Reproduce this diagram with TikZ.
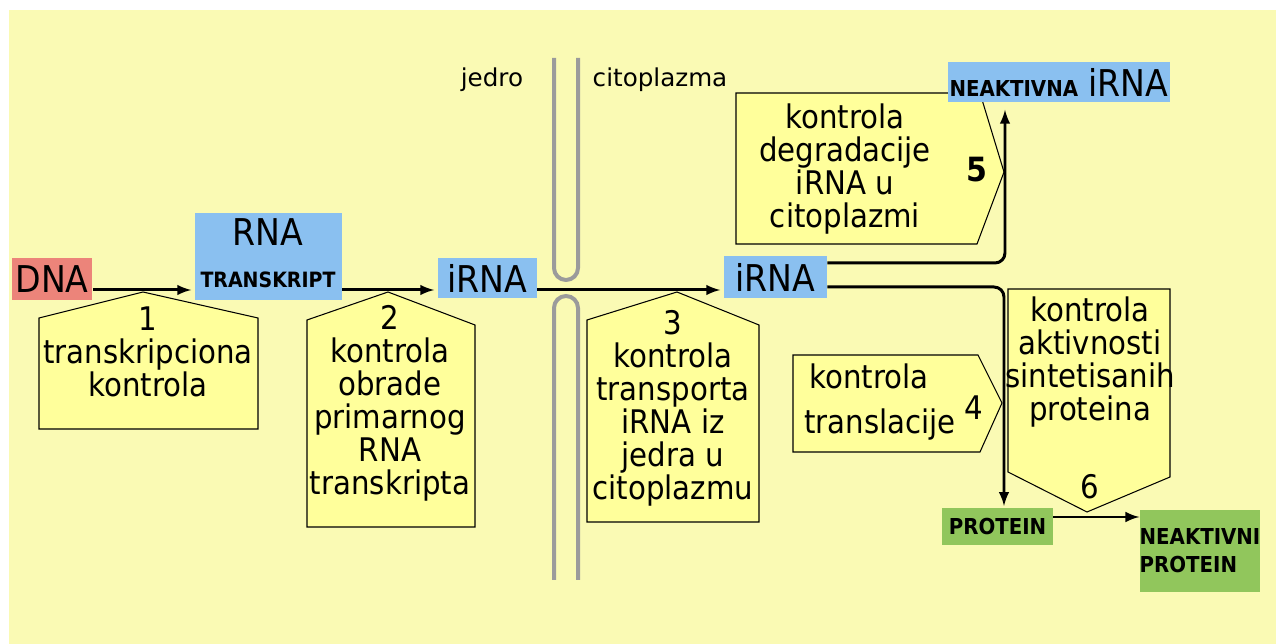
\documentclass[tikz,border=0pt]{standalone}
\usepackage{fontspec}
\setmainfont{DejaVu Sans Condensed}
\newfontfamily\placefont{DejaVu Sans}
\usetikzlibrary{arrows,calc,positioning}
\definecolor{bgyellow}{RGB}{250,250,180}
\definecolor{boxyellow}{RGB}{255,255,155}
\definecolor{dnared}{RGB}{236,132,122}
\definecolor{rnablue}{RGB}{138,192,240}
\definecolor{protgreen}{RGB}{145,198,92}
\definecolor{membrane}{RGB}{155,155,155}
\tikzset{
        callout/.style = {draw, fill=boxyellow, line width=0.6pt},
        ctext/.style = {align=center, inner sep=0pt,
            font=\fontsize{18.5}{18.8}\selectfont},
        mol/.style = {inner sep=0pt, font=\fontsize{21}{21}\selectfont},
        tag/.style = {inner sep=0pt, font=\bfseries\fontsize{12.5}{16}\selectfont},
        place/.style = {inner sep=0pt, font=\placefont\fontsize{14}{14}\selectfont},
        flow/.style = {draw, line width=1.7pt, -latex},
        memb/.style = {draw=membrane, line width=0.08cm, rounded corners=0.24cm},
    }

\begin{document}
\begin{tikzpicture}[x=0.02cm, y=-0.02cm]
            \useasboundingbox (0,0) rectangle (1276,644);
            \fill[white] (0,0) rectangle (1276,644);
            \fill[bgyellow] (9,10) rectangle (1276,644);

            % membrana jedra
            \draw[memb] (554,58) -- (554,280) -- (578,280) -- (578,58);
            \draw[memb] (554,580) -- (554,296) -- (578,296) -- (578,580);
            \node[place] (jedro) at (492,80) {jedro};
            \node[place] (cito) at (660,80) {citoplazma};

            % kontrolne tacke
            \draw[callout] (39,429) -- (39,318) -- (143,292) -- (258,318) -- (258,429) -- cycle;
            \node[ctext] (k1) at (148,352) {1\\transkripciona\\kontrola};

            \draw[callout] (307,527) -- (307,320) -- (388,292) -- (475,325) -- (475,527) -- cycle;
            \node[ctext] (k2) at (390,403) {2\\kontrola\\obrade\\primarnog\\RNA\\transkripta};

            \draw[callout] (587,522) -- (587,320) -- (677,292) -- (759,325) -- (759,522) -- cycle;
            \node[ctext] (k3) at (673,408) {3\\kontrola\\transporta\\iRNA iz\\jedra u\\citoplazmu};

            \draw[callout] (793,355) -- (978,355) -- (1002,403) -- (980,452) -- (793,452) -- cycle;
            \node[ctext, align=left, font=\fontsize{18.5}{25.5}\selectfont] (k4) at (880,402) {\,kontrola\\translacije};
            \node[ctext] (n4) at (974,408) {4};

            \draw[callout] (736,93) -- (980,93) -- (1004,172) -- (977,244) -- (736,244) -- cycle;
            \node[ctext] (k5) at (845,169) {kontrola\\degradacije\\iRNA u\\citoplazmi};
            \node[ctext, font=\bfseries\fontsize{19}{19}\selectfont] (n5) at (977,170) {5};

            \draw[callout] (1008,289) -- (1170,289) -- (1170,477) -- (1087,512) -- (1008,472) -- cycle;
            \node[ctext] (k6) at (1090,362) {kontrola\\aktivnosti\\sintetisanih\\proteina};
            \node[ctext] (n6) at (1090,487) {6};

            % molekuli
            \node[mol, fill=dnared, minimum width=1.62cm, minimum height=0.84cm] (dna) at (52,279) {DNA};
            \node[fill=rnablue, minimum width=2.94cm, minimum height=1.74cm] (rna) at (268.5,256.5) {};
            \node[mol] (rnaword) at (268,232) {RNA};
            \node[tag, font=\bfseries\fontsize{12}{12}\selectfont] (rnatag) at (268,280) {TRANSKRIPT};
            \node[mol, fill=rnablue, minimum width=1.98cm, minimum height=0.8cm] (irna1) at (487.5,278) {iRNA};
            \node[mol, fill=rnablue, minimum width=2.06cm, minimum height=0.84cm] (irna2) at (775.5,277) {iRNA};
            \node[mol, fill=rnablue, minimum width=4.44cm, minimum height=0.8cm] (nirna) at (1059,82)
                {{\bfseries\fontsize{12.5}{12.5}\selectfont NEAKTIVNA} iRNA};
            \node[tag, fill=protgreen, minimum width=2.22cm, minimum height=0.74cm] (prot) at (997.5,526.5) {PROTEIN};
            \node[tag, fill=protgreen, minimum width=2.32cm, minimum height=1.64cm, align=left] (nprot) at (1200,551)
                {NEAKTIVNI\\PROTEIN};

            % tok
            \draw[flow, shorten >=2pt] (dna.east |- 0,290) -- (rna.west |- 0,290);
            \draw[flow, shorten >=2pt] (rna.east |- 0,290) -- (irna1.west |- 0,290);
            \draw[flow, shorten >=2pt] (irna1.east |- 0,290) -- (irna2.west |- 0,290);
            \draw[flow, rounded corners=0.2cm, shorten >=0.15cm] (irna2.east |- 0,263) -| (1005,0 |- nirna.south);
            \draw[flow, rounded corners=0.2cm, shorten >=1pt] (irna2.east |- 0,287) -| (1004,0 |- prot.north);
            \draw[flow] (prot.east |- 0,517) -- (nprot.west |- 0,517);
\end{tikzpicture}
\end{document}
